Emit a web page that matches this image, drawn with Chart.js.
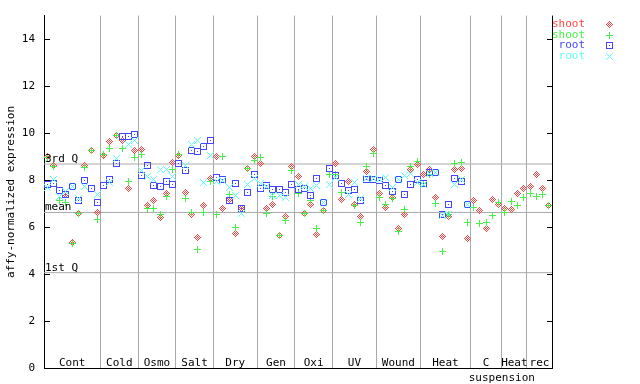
<!DOCTYPE html>
<html>
<head>
<meta charset="utf-8">
<script src="https://cdn.jsdelivr.net/npm/chart.js@4.4.1/dist/chart.umd.min.js"></script>
<style>
  html, body { margin: 0; padding: 0; background: #fff; }
  canvas { display: block; }
</style>
</head>
<body>
<canvas id="chart" width="640" height="384"></canvas>
<script>
// --- Data ---
const groupLabels = ['Cont', 'Cold', 'Osmo', 'Salt', 'Dry', 'Gen', 'Oxi', 'UV', 'Wound', 'Heat', 'C', 'Heat', 'rec'];
const groupSizes = [9, 6, 6, 6, 7, 6, 6, 7, 7, 8, 5, 4, 4];
const yTicks = [0, 2, 4, 6, 8, 10, 12, 14];
const quartileNames = ['3rd Q', 'mean', '1st Q'];
const quartileValues = [8.69, 6.63, 4.07];
const seriesLabels = ['shoot', 'shoot', 'root', 'root'];

const shootRed = [
  9.01, 8.62, null, 7.38, 5.35, 6.57, 8.61, 9.25, 6.62,
  9.06, 9.64, 9.91, 9.71, 7.63, 9.25,
  9.29, 6.91, 7.12, 6.41, 7.45, 8.77,
  9.04, 7.46, 6.54, 5.56, 6.93, 8.07,
  8.99, 6.79, 7.18, 5.73, 6.79, 8.48, 8.99,
  8.73, 6.78, 6.95, 5.66, 6.45, 8.57,
  8.18, 6.60, 6.96, 5.70, 6.73, null,
  8.73, 7.18, 7.94, 6.95, 6.46, 8.36, 9.29,
  7.44, 6.82, 7.25, 5.94, 6.54, 8.47, 8.68,
  8.26, 8.44, 7.28, 5.62, 6.45, 8.47, 8.51, 5.52,
  7.14, 6.71, 5.94, 7.18, 6.95,
  6.78, 6.74, 7.42, 7.63,
  7.73, 8.26, 7.67, 6.93
];
const shootGreen = [
  8.96, 8.60, 7.14, 7.04, 5.29, 6.57, 8.56, 9.25, 6.33,
  9.10, 9.36, 9.91, 9.36, 7.94, 8.95,
  9.10, 6.81, 6.81, 6.53, 7.30, 8.47,
  9.10, 7.21, 6.61, 5.05, 6.62, 7.94,
  6.53, 8.99, 7.39, 5.98, null, 8.51, 8.85,
  8.97, 6.57, 7.30, 5.66, 6.27, 8.42,
  7.45, 6.60, 7.14, 5.94, 6.73, 8.25,
  8.26, 7.47, null, 6.93, 6.19, 8.60, 9.14,
  7.26, 6.98, 7.23, 5.80, 6.74, 8.58, 8.80,
  7.88, 8.26, 7.00, 4.99, 6.53, 8.71, 8.75, 6.19,
  6.84, 6.15, 6.19, 6.50, 7.07,
  6.62, 7.09, 6.93, 7.28,
  7.42, 7.31, 7.39, 6.93
];
const rootBlue = [
  7.81, 7.88, 7.56, 7.38, 7.74, 7.14, 7.98, 7.67, 7.04,
  7.77, 8.05, 8.70, 9.84, 9.88, 9.93,
  8.22, 8.61, 7.77, 7.73, 7.94, 7.80,
  8.73, 8.43, 9.25, 9.21, 9.42, 9.67,
  8.10, 8.04, 7.14, 7.88, 6.79, 7.46, 8.26,
  7.63, 7.78, 7.59, 7.59, 7.46, 7.80,
  7.59, 7.63, 7.34, 8.09, 7.04, 8.51,
  8.22, 7.87, 7.56, 7.60, 7.14, 8.02, 8.02,
  7.99, 7.77, 7.52, 8.04, 7.38, 7.84, 8.03,
  7.88, 8.33, 8.33, 6.53, 6.97, 8.09, 7.94, 6.97,
  null, null, null, null, null,
  null, null, null, null,
  null, null, null, null
];
const rootCyan = [
  7.68, 8.02, 7.31, 7.52, 7.74, 7.21, 7.73, null, 7.39,
  null, 7.91, 8.94, null, 9.50, 9.67,
  8.43, 8.16, 8.02, 8.47, 8.47, 8.16,
  null, 8.64, 9.50, 9.71, 7.89, 9.07,
  7.94, 7.98, 7.71, 7.35, 6.57, 7.80, 8.09,
  7.88, 7.75, 7.37, 7.33, 7.28, null,
  7.82, 7.72, 7.63, 7.77, 7.04, 7.80,
  8.11, null, 7.38, 7.90, 7.24, 8.06, 8.09,
  8.04, 8.10, 7.70, 8.03, 8.19, 8.29, 7.91,
  7.84, 8.29, 8.33, 6.48, 6.53, 7.80, 8.02, 6.97,
  null, null, null, null, null,
  null, null, null, null,
  null, null, null, null
];

const FONT = "11px 'DejaVu Sans Mono', monospace";
const GRID = '#aaaaaa';
const colors = ['#ff4646', '#46f046', '#4646ff', '#5cffff'];

// group boundaries (in sample-index units)
const bounds = [];
let acc = 0;
groupSizes.forEach(n => { acc += n; bounds.push(acc); });
const nSamples = acc;

// small pixel markers, drawn like the original bitmap symbols
function makeMarker(kind, color) {
  const c = document.createElement('canvas');
  c.width = 7; c.height = 7;
  const g = c.getContext('2d');
  g.fillStyle = color;
  for (let dy = -3; dy <= 3; dy++) {
    for (let dx = -3; dx <= 3; dx++) {
      const ax = Math.abs(dx), ay = Math.abs(dy);
      let on = false;
      if (kind === 'diamond') on = (ax + ay === 3) || (ax + ay === 1);
      else if (kind === 'plus') on = (dx === 0) || (dy === 0);
      else if (kind === 'square') on = (Math.max(ax, ay) === 3) || (ax + ay === 0);
      else if (kind === 'cross') on = (ax === ay);
      if (on) g.fillRect(dx + 3, dy + 3, 1, 1);
    }
  }
  return c;
}
const markers = [
  makeMarker('diamond', colors[0]),
  makeMarker('plus', colors[1]),
  makeMarker('square', colors[2]),
  makeMarker('cross', colors[3])
];

const toPoints = arr => arr.map((v, i) => ({ x: i + 0.5, y: v }));

const pointSets = [shootRed, shootGreen, rootBlue, rootCyan].map((arr, k) => ({
  label: seriesLabels[k],
  data: toPoints(arr),
  pointStyle: markers[k],
  borderColor: colors[k],
  backgroundColor: colors[k],
  pointRadius: 3,
  showLine: false,
  order: 4 - k
}));

const quartileSets = quartileValues.map((q, k) => ({
  label: quartileNames[k],
  data: [{ x: 0, y: q }, { x: nSamples, y: q }],
  showLine: true,
  borderColor: GRID,
  borderWidth: 1,
  pointRadius: 0,
  order: 10
}));

const decorations = {
  id: 'decorations',
  beforeDatasetsDraw(chart) {
    chart.ctx.imageSmoothingEnabled = false;
  },
  afterDraw(chart) {
    const { ctx, chartArea: area, scales: { x, y } } = chart;
    ctx.save();

    // right frame line and inward ticks on both sides
    ctx.strokeStyle = '#000';
    ctx.lineWidth = 1;
    ctx.beginPath();
    ctx.moveTo(Math.round(area.right) + 0.5, area.top);
    ctx.lineTo(Math.round(area.right) + 0.5, area.bottom);
    yTicks.forEach(t => {
      const py = Math.round(y.getPixelForValue(t)) + 0.5;
      ctx.moveTo(area.left, py); ctx.lineTo(area.left + 6, py);
      ctx.moveTo(area.right - 5, py); ctx.lineTo(area.right + 1, py);
    });
    ctx.stroke();

    ctx.font = FONT;
    ctx.fillStyle = '#000';

    // quartile labels
    ctx.textAlign = 'left';
    ctx.textBaseline = 'alphabetic';
    quartileValues.forEach((q, k) => {
      ctx.fillText(quartileNames[k], area.left + 1, Math.round(y.getPixelForValue(q)) - 2);
    });

    // group labels
    ctx.textAlign = 'center';
    let start = 0;
    groupSizes.forEach((n, k) => {
      ctx.fillText(groupLabels[k], x.getPixelForValue(start + n / 2), area.bottom - 2);
      start += n;
    });
    ctx.fillText('suspension', x.getPixelForValue(bounds[10]), area.bottom + 13);

    // legend
    ctx.textAlign = 'right';
    ctx.textBaseline = 'middle';
    ctx.imageSmoothingEnabled = false;
    pointSets.forEach((ds, k) => {
      const ly = 24 + k * 10.7;
      ctx.fillStyle = colors[k];
      ctx.fillText(ds.label, 585, ly);
      ctx.drawImage(markers[k], 606, Math.round(ly) - 3);
    });

    ctx.restore();
  }
};

new Chart(document.getElementById('chart'), {
  type: 'scatter',
  data: { datasets: [...pointSets, ...quartileSets] },
  options: {
    responsive: false,
    devicePixelRatio: 1,
    animation: false,
    events: [],
    layout: { padding: { top: 13, right: 88, bottom: 0, left: 0 } },
    plugins: { legend: { display: false }, tooltip: { enabled: false } },
    scales: {
      x: {
        type: 'linear',
        min: 0,
        max: nSamples,
        afterBuildTicks: scale => { scale.ticks = bounds.slice(0, -1).map(v => ({ value: v })); },
        afterFit: scale => { scale.height = 15; },
        ticks: { display: false },
        grid: { color: GRID, drawTicks: false },
        border: { color: '#000', width: 1 }
      },
      y: {
        min: 0,
        max: 15,
        afterBuildTicks: scale => { scale.ticks = yTicks.map(v => ({ value: v })); },
        afterFit: scale => { scale.width = 44; },
        ticks: { color: '#000', font: { family: "'DejaVu Sans Mono', monospace", size: 11 }, padding: 9 },
        grid: { display: false, drawTicks: false },
        border: { color: '#000', width: 1 },
        title: {
          display: true,
          text: 'affy-normalized expression',
          color: '#000',
          font: { family: "'DejaVu Sans Mono', monospace", size: 11 },
          padding: { top: 5, bottom: 0 }
        }
      }
    }
  },
  plugins: [decorations]
});
</script>
</body>
</html>
